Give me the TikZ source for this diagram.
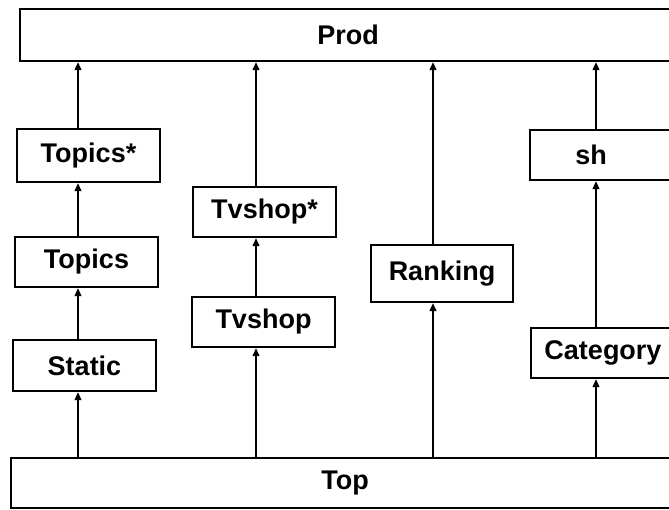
\documentclass[tikz,border=0pt]{standalone}
\usepackage{fontspec}
\setmainfont{Liberation Sans}
\usetikzlibrary{arrows.meta}
\begin{document}
\begin{tikzpicture}[x=1pt,y=-1pt,
  box/.style={draw, line width=2pt, inner sep=0pt, font=\fontsize{27}{30}\selectfont\bfseries},
  conn/.style={line width=2pt, -{Triangle[length=8pt,width=6.5pt]}}]
\useasboundingbox (0,0) rectangle (669,509);
\clip (0,0) rectangle (669,509);
\fill[white] (0,0) rectangle (669,509);
% boxes
\node[box, minimum width=656pt, minimum height=52pt] (prod) at (348,35) {Prod};
\node[box, minimum width=668pt, minimum height=50pt] (top) at (345,483) {Top};
\node[box, minimum width=143pt, minimum height=53pt] (topicsS) at (88.5,155.5) {Topics*};
\node[box, minimum width=143pt, minimum height=50pt] (topics) at (86.5,262) {Topics};
\node[box, minimum width=143pt, minimum height=51pt] (static) at (84.5,365.5) {Static};
\node[box, minimum width=143pt, minimum height=50pt] (tvshopS) at (264.5,212) {Tvshop*};
\node[box, minimum width=143pt, minimum height=50pt] (tvshop) at (263.5,322) {Tvshop};
\node[box, minimum width=142pt, minimum height=57pt] (ranking) at (442,273.5) {Ranking};
\node[box, anchor=west, minimum height=50pt, text width=171pt, align=left] (sh) at (529,155) {\makebox[122pt]{sh}};
\node[box, minimum width=144pt, minimum height=50pt] (category) at (603,353) {Category};
% column positions
\coordinate (c1) at (78,0);
\coordinate (c2) at (256,0);
\coordinate (c3) at (433,0);
\coordinate (c4) at (596,0);
% connectors
\draw[conn] (top.north -| c1) -- (static.south -| c1);
\draw[conn] (static.north -| c1) -- (topics.south -| c1);
\draw[conn] (topics.north -| c1) -- (topicsS.south -| c1);
\draw[conn] (topicsS.north -| c1) -- (prod.south -| c1);
\draw[conn] (top.north -| c2) -- (tvshop.south -| c2);
\draw[conn] (tvshop.north -| c2) -- (tvshopS.south -| c2);
\draw[conn] (tvshopS.north -| c2) -- (prod.south -| c2);
\draw[conn] (top.north -| c3) -- (ranking.south -| c3);
\draw[conn] (ranking.north -| c3) -- (prod.south -| c3);
\draw[conn] (top.north -| c4) -- (category.south -| c4);
\draw[conn] (category.north -| c4) -- (sh.south -| c4);
\draw[conn] (sh.north -| c4) -- (prod.south -| c4);
\end{tikzpicture}
\end{document}
